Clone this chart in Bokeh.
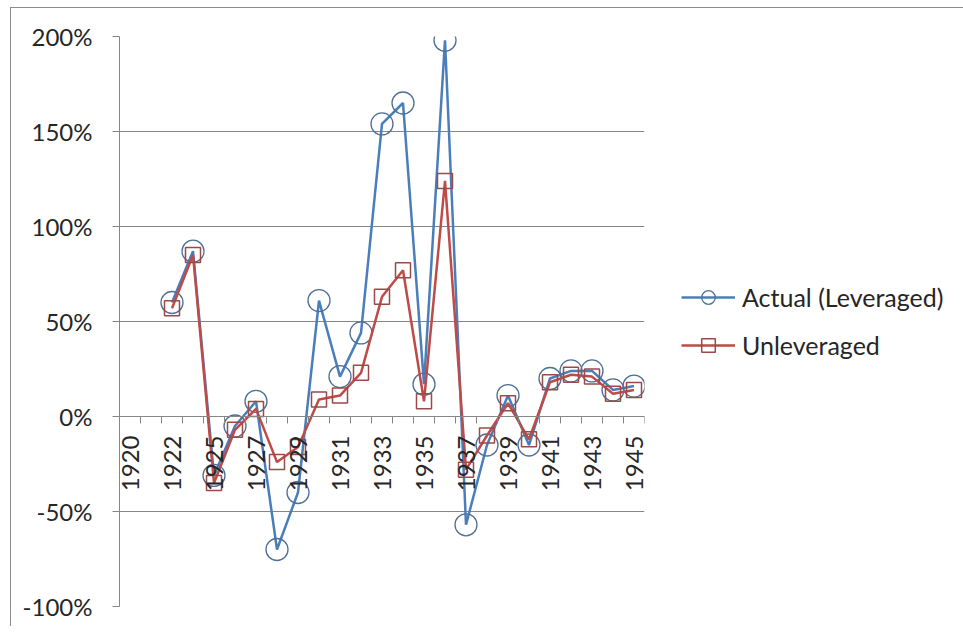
import numpy as np
from bokeh.plotting import figure
from bokeh.models import (Range1d, FixedTicker, NumeralTickFormatter, Legend, LegendItem,
                          ColumnDataSource)
from bokeh.embed import file_html
from bokeh.resources import INLINE

# ---- data (percent) ----
years = ["1920", "1921", "1922", "1924", "1925", "1926", "1927", "1928", "1929", "1930",
         "1931", "1932", "1933", "1934", "1935", "1936", "1937", "1938", "1939", "1940",
         "1941", "1942", "1943", "1944", "1945"]
actual_leveraged = [None, None, 60, 87, -31, -5, 8, -70, -40, 61,
                    21, 44, 154, 165, 17, 198, -57, -15, 11, -15,
                    20, 24, 24, 14, 16]
unleveraged = [None, None, 57, 85, -35, -7, 4, -24, -16, 9,
               11, 23, 63, 77, 8, 124, -28, -10, 7, -12,
               18, 22, 21, 12, 14]
y_ticks = [-1.0, -0.5, 0.0, 0.5, 1.0, 1.5, 2.0]

FONT = "Lato"
GRAY = "#868686"
TEXT = "#262626"
FSIZE = "24px"

idx = list(range(len(years)))
def to_frac(vals):
    return [np.nan if v is None else v / 100.0 for v in vals]

src = ColumnDataSource(dict(x=idx, lev=to_frac(actual_leveraged), unl=to_frac(unleveraged)))

p = figure(frame_width=525, frame_height=570, output_backend="svg", toolbar_location=None,
           x_range=Range1d(-0.5, len(years) - 0.5), y_range=Range1d(-1.0, 2.0),
           min_border_left=108, min_border_top=28, min_border_bottom=20, min_border_right=10,
           styles={"border-left": "1px solid #8c8c8c", "border-top": "1px solid #8c8c8c",
                   "margin-left": "10px", "margin-top": "7px"})
p.outline_line_color = None
p.background_fill_color = "white"
p.border_fill_color = "white"

# y axis
p.yaxis.ticker = FixedTicker(ticks=y_ticks, minor_ticks=[])
p.yaxis.formatter = NumeralTickFormatter(format="0%")
p.yaxis.axis_line_color = GRAY
p.yaxis.major_tick_line_color = GRAY
p.yaxis.major_tick_out = 7
p.yaxis.major_tick_in = 0
p.yaxis.minor_tick_line_color = None
p.yaxis.major_label_standoff = 20
p.yaxis.major_label_text_font = FONT
p.yaxis.major_label_text_font_size = FSIZE
p.yaxis.major_label_text_color = TEXT

# x axis (at y = 0)
label_pos = [i for i in idx if i % 2 == 0]
p.xaxis.ticker = FixedTicker(ticks=label_pos, minor_ticks=[i - 0.5 for i in idx] + [len(years) - 0.5])
p.xaxis.major_label_overrides = {i: years[i] for i in label_pos}
p.xaxis.fixed_location = 0
p.xaxis.axis_line_color = GRAY
p.xaxis.major_tick_line_color = None
p.xaxis.minor_tick_line_color = GRAY
p.xaxis.minor_tick_out = 7
p.xaxis.minor_tick_in = 0
p.xaxis.major_label_orientation = np.pi / 2
p.xaxis.major_label_standoff = 12
p.xaxis.major_label_text_font = FONT
p.xaxis.major_label_text_font_size = FSIZE
p.xaxis.major_label_text_color = TEXT

p.xgrid.grid_line_color = None
p.ygrid.ticker = FixedTicker(ticks=y_ticks)
p.ygrid.grid_line_color = GRAY
p.ygrid.grid_line_width = 1.2

BLUE = "#4A7EBB"
RED = "#BE4B48"

l1 = p.line("x", "lev", source=src, line_color=BLUE, line_width=2.5)
s1 = p.scatter("x", "lev", source=src, marker="circle", size=22, fill_color=None,
               line_color="#4F6F96", line_width=1.3)
l2 = p.line("x", "unl", source=src, line_color=RED, line_width=2.5)
s2 = p.scatter("x", "unl", source=src, marker="square", size=15, fill_color=None,
               line_color="#9B4A48", line_width=1.5)

legend = Legend(items=[LegendItem(label="Actual (Leveraged)", renderers=[l1, s1]),
                       LegendItem(label="Unleveraged", renderers=[l2, s2])],
                location="center_left", orientation="vertical")
legend.label_text_font = FONT
legend.label_text_font_size = "25px"
legend.label_text_color = TEXT
legend.glyph_width = 54
legend.glyph_height = 34
legend.spacing = 14
legend.label_standoff = 7
legend.margin = 37
legend.padding = 8
legend.border_line_color = None
legend.background_fill_alpha = 0
p.add_layout(legend, "right")

open("out.html", "w").write(file_html(p, INLINE))
